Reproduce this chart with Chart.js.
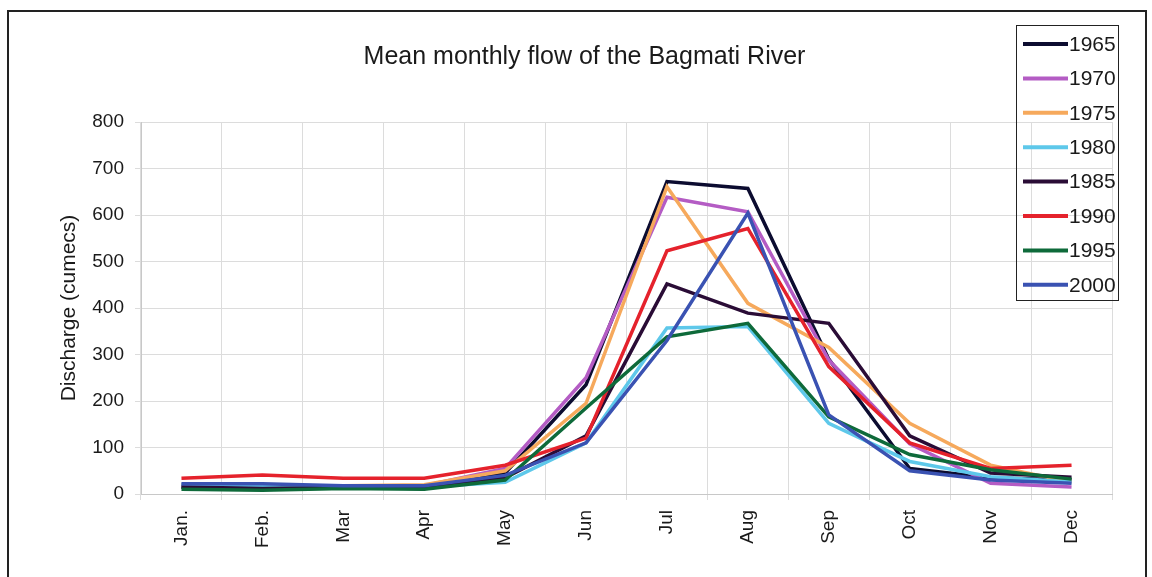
<!DOCTYPE html>
<html>
<head>
<meta charset="utf-8">
<script src="https://cdn.jsdelivr.net/npm/chart.js@4.4.1/dist/chart.umd.min.js"></script>
<style>
    body { margin: 0; background: #fff; overflow: hidden; }
    #marco { position: absolute; left: 7px; top: 10px; width: 1136px; height: 600px; border: 2px solid #222; border-bottom: none; }
    #lienzo { position: absolute; left: 0; top: 0; }
</style>
</head>
<body>
<div id="marco"></div>
<canvas id="lienzo" width="1152" height="577"></canvas>
<script>
const meses = ["Jan.", "Feb.", "Mar", "Apr", "May", "Jun", "Jul", "Aug", "Sep", "Oct", "Nov", "Dec"];
const anios = ["1965", "1970", "1975", "1980", "1985", "1990", "1995", "2000"];
const colores = ["#0c0c30", "#b45cc4", "#f6a95c", "#5ec8ea", "#2a0c36", "#e5222c", "#0e6a3a", "#3a52b2"];

const q1965 = [15, 12, 15, 15, 45, 235, 672, 657, 290, 55, 35, 30];
const q1970 = [18, 18, 18, 18, 55, 250, 638, 607, 288, 108, 23, 15];
const q1975 = [20, 18, 18, 20, 50, 195, 661, 410, 315, 152, 62, 25];
const q1980 = [20, 18, 18, 15, 25, 110, 357, 360, 152, 70, 37, 26];
const q1985 = [15, 12, 14, 12, 35, 125, 452, 389, 367, 125, 45, 36];
const q1990 = [34, 41, 34, 34, 62, 120, 523, 571, 274, 110, 55, 62];
const q1995 = [10, 8, 12, 10, 30, 185, 338, 367, 166, 85, 52, 32];
const q2000 = [22, 22, 18, 18, 40, 110, 330, 604, 170, 50, 30, 23];
const series = [q1965, q1970, q1975, q1980, q1985, q1990, q1995, q2000];

const yTicks = [0, 100, 200, 300, 400, 500, 600, 700, 800];

const fuente = "'Liberation Sans', Arial, sans-serif";

// leyenda con recuadro, dibujada arriba a la derecha
const leyenda = {
    id: "leyenda",
    afterDraw(chart) {
        const ctx = chart.ctx;
        ctx.save();
        ctx.strokeStyle = "#222";
        ctx.lineWidth = 1;
        ctx.strokeRect(1016.5, 25.5, 102, 275);
        ctx.font = "21px " + fuente;
        ctx.textBaseline = "middle";
        ctx.fillStyle = "#1a1a1a";
        chart.data.datasets.forEach((ds, i) => {
            const y = 44 + i * 34.4;
            ctx.strokeStyle = ds.borderColor;
            ctx.lineWidth = 4;
            ctx.beginPath();
            ctx.moveTo(1023, y);
            ctx.lineTo(1068, y);
            ctx.stroke();
            ctx.fillText(ds.label, 1069, y + 1);
        });
        ctx.restore();
    }
};

const ctx = document.getElementById("lienzo").getContext("2d");
new Chart(ctx, {
    type: "line",
    data: {
        labels: meses,
        datasets: series.map((valores, i) => ({
            label: anios[i],
            data: valores,
            borderColor: colores[i],
            backgroundColor: colores[i],
            borderWidth: 3.5,
            pointRadius: 0,
            tension: 0,
            order: series.length - i
        }))
    },
    options: {
        responsive: false,
        animation: false,
        layout: { padding: { left: 57, right: 40, top: 0, bottom: 0 } },
        plugins: {
            legend: { display: false },
            tooltip: { enabled: false },
            title: {
                display: true,
                text: "Mean monthly flow of the Bagmati River",
                color: "#1a1a1a",
                font: { family: fuente, size: 25, weight: "normal" },
                padding: { top: 42, bottom: 50 }
            }
        },
        scales: {
            x: {
                offset: true,
                grid: { offset: true, color: "#dcdcdc", tickLength: 6 },
                border: { color: "#c8c8c8" },
                ticks: {
                    color: "#1a1a1a",
                    font: { family: fuente, size: 19 },
                    minRotation: 90,
                    maxRotation: 90,
                    padding: 10
                },
                afterFit: (s) => { s.height = 83; }
            },
            y: {
                min: 0,
                max: 800,
                afterBuildTicks: (s) => { s.ticks = yTicks.map(v => ({ value: v })); },
                grid: { color: "#dcdcdc", tickLength: 6 },
                border: { color: "#c8c8c8" },
                ticks: {
                    color: "#1a1a1a",
                    font: { family: fuente, size: 19 },
                    padding: 11
                },
                title: {
                    display: true,
                    text: "Discharge (cumecs)",
                    color: "#1a1a1a",
                    font: { family: fuente, size: 21 },
                    padding: 0
                },
                afterFit: (s) => { s.width = 84; }
            }
        }
    },
    plugins: [leyenda]
});
</script>
</body>
</html>
